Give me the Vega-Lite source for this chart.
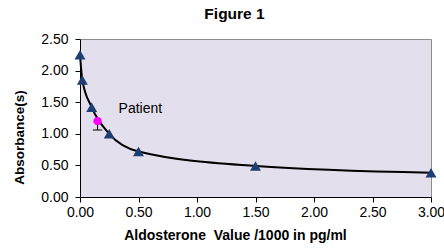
{
  "$schema": "https://vega.github.io/schema/vega-lite/v6.json",
  "width": 351,
  "height": 158,
  "autosize": "none",
  "padding": {"left": 80, "top": 39, "right": 13, "bottom": 53},
  "background": "white",
  "config": {
    "font": "Liberation Sans",
    "view": {"fill": "#E4DFEC", "stroke": "#8C8C8C", "strokeWidth": 1},
    "axis": {"labelOverlap": false, "labelSeparation": 0, "grid": false}
  },
  "title": {"text": "Figure 1", "fontSize": 15.5, "fontWeight": "bold", "font": "Liberation Sans", "color": "black", "offset": 10, "dx": -21},
  "datasets": {
    "std": [
      {"x": 0, "y": 2.25},
      {"x": 0.02, "y": 1.85},
      {"x": 0.1, "y": 1.42},
      {"x": 0.25, "y": 1.0},
      {"x": 0.5, "y": 0.72},
      {"x": 1.5, "y": 0.49},
      {"x": 3.0, "y": 0.385}
    ],
    "patient": [{"x": 0.15, "y": 1.2, "ylow": 1.06, "xlo": 0.11, "xhi": 0.19, "label": "Patient", "lx": 0.33, "ly": 1.39}]
  },
  "encoding": {
    "x": {"field": "x", "type": "quantitative", "scale": {"domain": [0, 3], "nice": false}, "axis": {"title": "Aldosterone\u00a0 Value /1000 in pg/ml", "values": [0, 0.5, 1, 1.5, 2, 2.5, 3], "format": ".2f", "domainColor": "black", "tickColor": "black", "labelColor": "black", "titleColor": "black", "labelFontSize": 14, "titleFontSize": 14, "titleFontWeight": "bold", "tickSize": 5, "labelPadding": 3, "titlePadding": 9, "labelFlush": false, "labelOverlap": false, "titleX": 155}},
    "y": {"field": "y", "type": "quantitative", "scale": {"domain": [0, 2.5], "nice": false}, "axis": {"title": "Absorbance(s)", "values": [0, 0.5, 1, 1.5, 2, 2.5], "format": ".2f", "domainColor": "black", "tickColor": "black", "labelColor": "black", "titleColor": "black", "labelFontSize": 14, "titleFontSize": 13.5, "titleFontWeight": "bold", "tickSize": 5, "labelPadding": 7, "titlePadding": 14, "titleY": 98, "titleAlign": "center", "labelFlush": false, "labelOverlap": false, "labelBound": false}}
  },
  "layer": [
    {
      "data": {"name": "std"},
      "mark": {"type": "line", "interpolate": "monotone", "color": "black", "strokeWidth": 2}
    },
    {
      "data": {"name": "std"},
      "mark": {"type": "point", "shape": "triangle-up", "filled": true, "color": "#1F3F73", "size": 120, "opacity": 1}
    },
    {
      "data": {"name": "patient"},
      "mark": {"type": "rule", "color": "black", "strokeWidth": 1},
      "encoding": {
        "y2": {"field": "ylow"}
      }
    },
    {
      "data": {"name": "patient"},
      "mark": {"type": "rule", "color": "black", "strokeWidth": 1},
      "encoding": {
        "x": {"field": "xlo", "type": "quantitative"},
        "x2": {"field": "xhi"},
        "y": {"field": "ylow", "type": "quantitative"}
      }
    },
    {
      "data": {"name": "patient"},
      "mark": {"type": "point", "shape": "circle", "filled": true, "color": "#FF00FF", "size": 70, "opacity": 1}
    },
    {
      "data": {"name": "patient"},
      "mark": {"type": "text", "align": "left", "baseline": "middle", "fontSize": 14, "color": "black"},
      "encoding": {
        "x": {"field": "lx", "type": "quantitative"},
        "y": {"field": "ly", "type": "quantitative"},
        "text": {"field": "label"}
      }
    }
  ]
}
